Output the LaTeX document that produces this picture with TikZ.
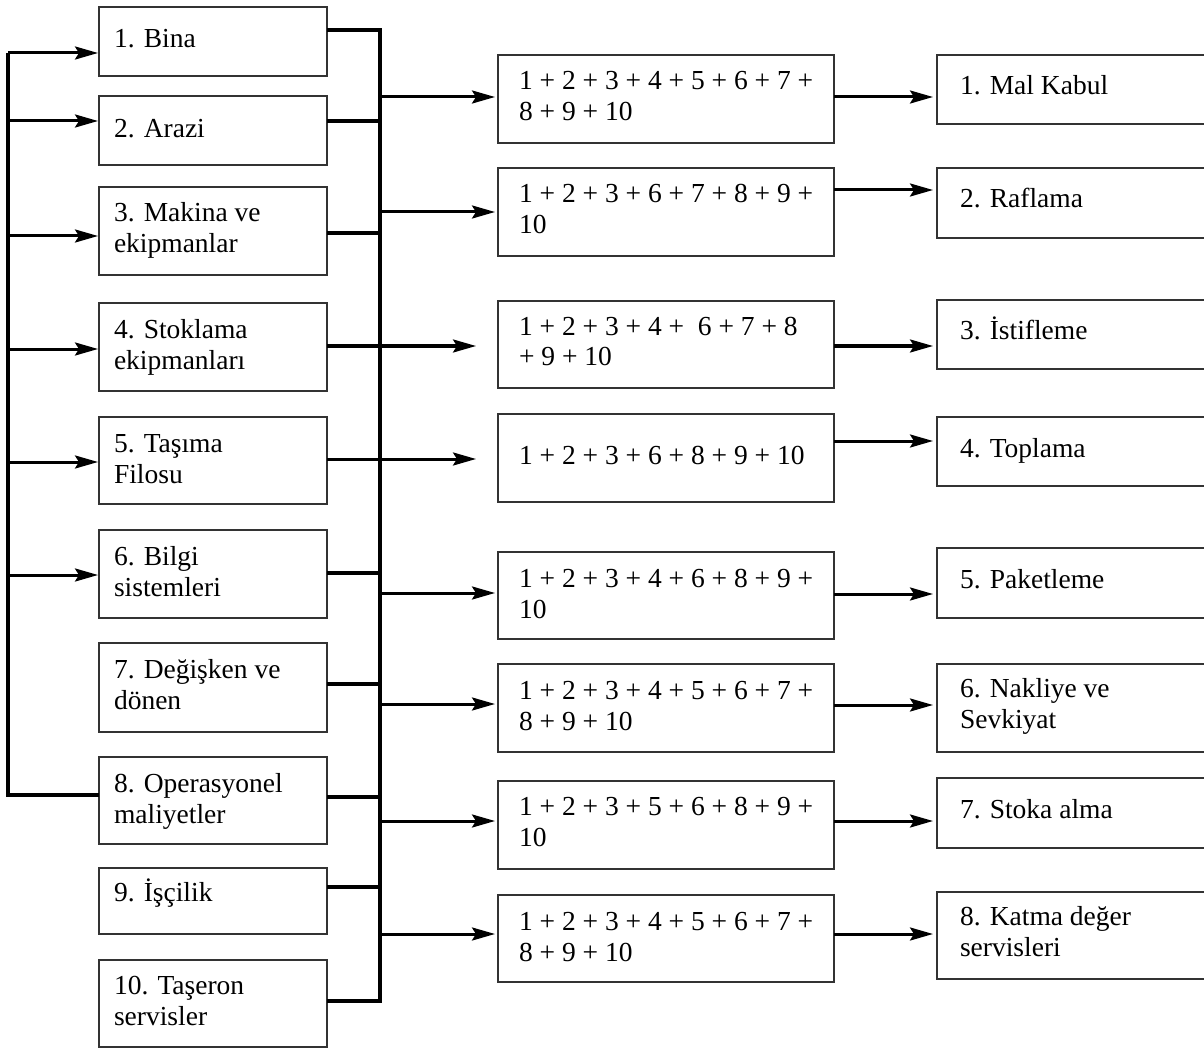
\documentclass[tikz,border=0pt]{standalone}
\usepackage{fontspec}
\setmainfont{Liberation Serif}
\usetikzlibrary{arrows.meta,calc}
\tikzset{
  boxst/.style={draw=black!80, line width=1.5pt, inner sep=0pt, outer sep=0pt, fill=none},
  txtst/.style={inner sep=0pt, outer sep=0pt, font=\fontsize{27.5}{31}\selectfont},
  arr/.style={line width=3pt, -{Stealth[length=23pt,width=13pt,inset=4pt]}},
  busln/.style={line width=4.2pt},
  busv/.style={line width=4.8pt, line join=miter},
  fbln/.style={line width=3.2pt}
}
\newcommand{\dbox}[8]{%
  \node[boxst, minimum width=#4pt, minimum height=#5pt, anchor=north west] (#1) at (#2,#3) {};
  \node[txtst, anchor=base west] (#1t) at ($(#1.north west)+(#6,#7)$) {\parbox[t]{330pt}{\raggedright #8}};
}
\begin{document}
\begin{tikzpicture}[x=1pt,y=-1pt]
\useasboundingbox (0,0) rectangle (1204,1048);
\clip (0,0) rectangle (1204,1048);
% left column
\dbox{L1}{99}{7}{228}{69}{15}{41}{1. Bina}
\dbox{L2}{99}{96}{228}{69}{15}{42}{2. Arazi}
\dbox{L3}{99}{187}{228}{88}{15}{35}{3. Makina ve\\ekipmanlar}
\dbox{L4}{99}{303}{228}{88}{15}{35}{4. Stoklama\\ekipmanları}
\dbox{L5}{99}{417}{228}{87}{15}{35}{5. Taşıma\\Filosu}
\dbox{L6}{99}{530}{228}{88}{15}{35}{6. Bilgi\\sistemleri}
\dbox{L7}{99}{643}{228}{89}{15}{35}{7. Değişken ve\\dönen}
\dbox{L8}{99}{757}{228}{87}{15}{35}{8. Operasyonel\\maliyetler}
\dbox{L9}{99}{868}{228}{66}{15}{33}{9. İşçilik}
\dbox{L10}{99}{960}{228}{87}{15}{34}{10. Taşeron\\servisler}
% middle column
\dbox{M1}{498}{55}{336}{88}{21}{35}{1 + 2 + 3 + 4 + 5 + 6 + 7 +\\8 + 9 + 10}
\dbox{M2}{498}{168}{336}{88}{21}{35}{1 + 2 + 3 + 6 + 7 + 8 + 9 +\\10}
\dbox{M3}{498}{301}{336}{87}{21}{34}{1 + 2 + 3 + 4 +\ \ 6 + 7 + 8\\+ 9 + 10}
\dbox{M4}{498}{414}{336}{88}{21}{50}{1 + 2 + 3 + 6 + 8 + 9 + 10}
\dbox{M5}{498}{552}{336}{87}{21}{35}{1 + 2 + 3 + 4 + 6 + 8 + 9 +\\10}
\dbox{M6}{498}{664}{336}{88}{21}{35}{1 + 2 + 3 + 4 + 5 + 6 + 7 +\\8 + 9 + 10}
\dbox{M7}{498}{781}{336}{88}{21}{34}{1 + 2 + 3 + 5 + 6 + 8 + 9 +\\10}
\dbox{M8}{498}{895}{336}{87}{21}{35}{1 + 2 + 3 + 4 + 5 + 6 + 7 +\\8 + 9 + 10}
% right column
\dbox{R1}{937}{55}{300}{69}{23}{40}{1. Mal Kabul}
\dbox{R2}{937}{168}{300}{70}{23}{40}{2. Raflama}
\dbox{R3}{937}{300}{300}{69}{23}{40}{3. İstifleme}
\dbox{R4}{937}{417}{300}{69}{23}{40}{4. Toplama}
\dbox{R5}{937}{548}{300}{70}{23}{40}{5. Paketleme}
\dbox{R6}{937}{664}{300}{88}{23}{33}{6. Nakliye ve\\Sevkiyat}
\dbox{R7}{937}{778}{300}{70}{23}{40}{7. Stoka alma}
\dbox{R8}{937}{892}{300}{87}{23}{33}{8. Katma değer\\servisleri}
% reference coordinates
\coordinate (bus) at (380,0);
\coordinate (fb) at (8,0);
% outputs of left boxes to bus
\coordinate (l1o) at ($(L1.north east)+(0,23)$);
\coordinate (l2o) at ($(L2.north east)+(0,25)$);
\coordinate (l3o) at ($(L3.north east)+(0,46)$);
\coordinate (l6o) at ($(L6.north east)+(0,43)$);
\coordinate (l7o) at ($(L7.north east)+(0,41)$);
\coordinate (l8o) at ($(L8.north east)+(0,40)$);
\coordinate (l9o) at ($(L9.north east)+(0,19)$);
\coordinate (l10o) at ($(L10.north east)+(0,41)$);
\draw[busv] (l1o) -- (l1o -| bus) -- (l10o -| bus) -- (l10o);
\foreach \p in {l2o,l3o,l6o,l7o,l8o,l9o}{\draw[busln] (\p) -- (\p -| bus);}
% bus to middle boxes
\coordinate (m1i) at ($(M1.north west)+(0,42)$);
\coordinate (m2i) at ($(M2.north west)+(0,44)$);
\coordinate (m5i) at ($(M5.north west)+(0,41)$);
\coordinate (m6i) at ($(M6.north west)+(0,40)$);
\coordinate (m7i) at ($(M7.north west)+(0,40)$);
\coordinate (m8i) at ($(M8.north west)+(0,39)$);
\foreach \p in {m1i,m2i,m5i,m6i,m7i,m8i}{\draw[arr, shorten >=3pt] (\p -| bus) -- (\p);}
% direct lines from boxes 4 and 5
\coordinate (l4o) at ($(L4.north east)+(0,43)$);
\coordinate (l5o) at ($(L5.north east)+(0,42)$);
\draw[arr, shorten >=22pt] (l4o) -- (l4o -| M3.west);
\draw[arr, shorten >=22pt] (l5o) -- (l5o -| M4.west);
% middle to right
\coordinate (r1i) at ($(R1.north west)+(0,42)$);
\coordinate (r2i) at ($(R2.north west)+(0,22)$);
\coordinate (r3i) at ($(R3.north west)+(0,46)$);
\coordinate (r4i) at ($(R4.north west)+(0,24)$);
\coordinate (r5i) at ($(R5.north west)+(0,46)$);
\coordinate (r6i) at ($(R6.north west)+(0,41)$);
\coordinate (r7i) at ($(R7.north west)+(0,43)$);
\coordinate (r8i) at ($(R8.north west)+(0,42)$);
\draw[arr, shorten >=4pt] (r1i -| M1.east) -- (r1i);
\draw[arr, shorten >=4pt] (r2i -| M2.east) -- (r2i);
\draw[arr, shorten >=4pt] (r3i -| M3.east) -- (r3i);
\draw[arr, shorten >=4pt] (r4i -| M4.east) -- (r4i);
\draw[arr, shorten >=4pt] (r5i -| M5.east) -- (r5i);
\draw[arr, shorten >=4pt] (r6i -| M6.east) -- (r6i);
\draw[arr, shorten >=4pt] (r7i -| M7.east) -- (r7i);
\draw[arr, shorten >=4pt] (r8i -| M8.east) -- (r8i);
% feedback loop from box 8
\coordinate (l8w) at ($(L8.north west)+(0,38)$);
\coordinate (f1) at ($(L1.north west)+(0,46)$);
\coordinate (f2) at ($(L2.north west)+(0,25)$);
\coordinate (f3) at ($(L3.north west)+(0,49)$);
\coordinate (f4) at ($(L4.north west)+(0,46)$);
\coordinate (f5) at ($(L5.north west)+(0,45)$);
\coordinate (f6) at ($(L6.north west)+(0,45)$);
\draw[fbln, line join=miter] (l8w) -- (l8w -| fb) -- (f1 -| fb);
\foreach \p in {f1,f2,f3,f4,f5,f6}{\draw[arr, shorten >=1pt] (\p -| fb) -- (\p);}
\end{tikzpicture}
\end{document}
